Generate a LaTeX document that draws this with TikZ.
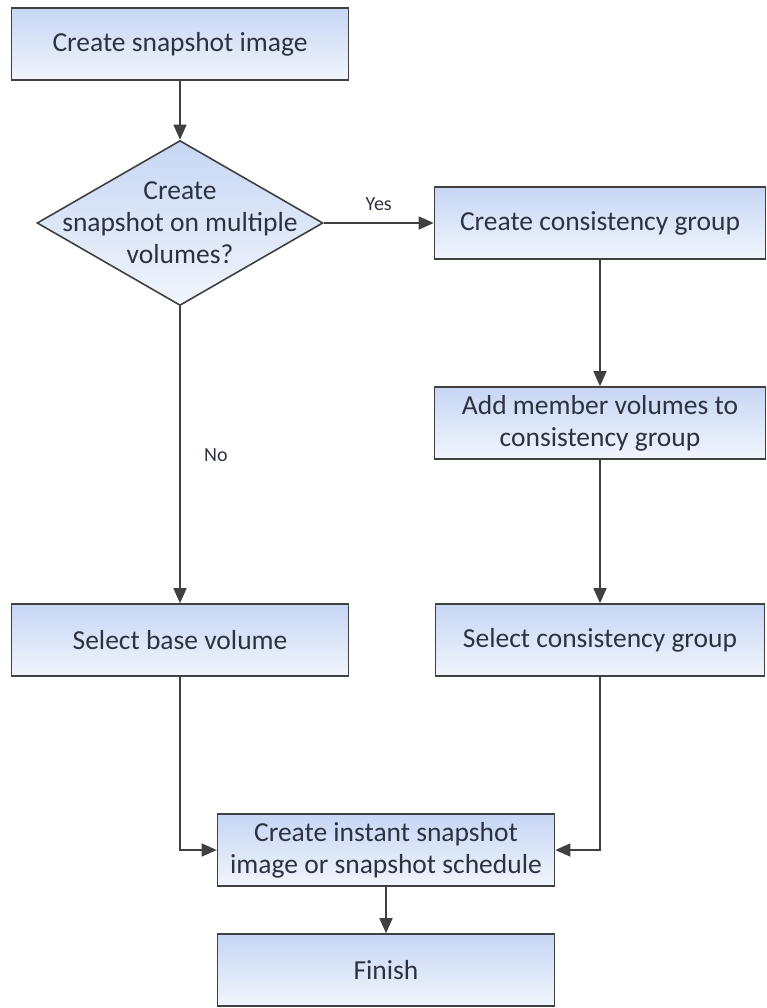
\documentclass[tikz,border=0pt]{standalone}
\usepackage{fontspec}
\setmainfont{Carlito}
\usepackage{tikz}
\usetikzlibrary{shapes.geometric,arrows.meta}
\definecolor{boxtop}{RGB}{198,214,244}
\definecolor{boxbot}{RGB}{241,245,252}
\definecolor{edge}{RGB}{64,64,64}
\definecolor{ink}{RGB}{45,50,65}

\begin{document}
\begin{tikzpicture}[x=1pt, y=-1pt,
		boxtext/.style={text=ink, align=center, font=\fontsize{27.5}{32}\selectfont},
		taskbox/.style={boxtext, draw=edge, line width=1.6pt, top color=boxtop, bottom color=boxbot,
			minimum width=337pt, minimum height=72pt, inner sep=0pt},
		decision/.style={taskbox, shape=diamond, minimum width=286pt, minimum height=165pt},
		flow/.style={draw=edge, line width=1.6pt, -{Triangle[length=15pt,width=13pt]}},
		note/.style={text=ink, font=\fontsize{20}{22}\selectfont}]
		\useasboundingbox (0,0) rectangle (767,1008);
		
		\node[taskbox] (create) at (180,44) {Create snapshot image};
		\node[decision, label={[boxtext]center:Create\\snapshot on multiple\\volumes?}] (multi) at (180,223) {};
		
		\node[taskbox, minimum width=331pt] (group) at (600,223) {Create consistency group};
		\node[taskbox, minimum width=331pt] (member) at (600,423) {Add member volumes to\\consistency group};
		
		\node[taskbox] (base) at (180,640) {Select base volume};
		\node[taskbox, minimum width=329pt] (select) at (600,640) {Select consistency group};
		
		\node[taskbox] (instant) at (386,850) {Create instant snapshot\\image or snapshot schedule};
		\node[taskbox] (finish) at (386,970) {Finish};
		
		\draw[flow] (create) -- (multi);
		\draw[flow] (multi) -- node[note, above=8pt] {Yes} (group);
		\draw[flow] (multi) -- node[note, right=20pt] {No} (base);
		\draw[flow] (group) -- (member);
		\draw[flow] (member) -- (select);
		\draw[flow] (base) |- (instant);
		\draw[flow] (select) |- (instant);
		\draw[flow] (instant) -- (finish);
	\end{tikzpicture}
\end{document}
